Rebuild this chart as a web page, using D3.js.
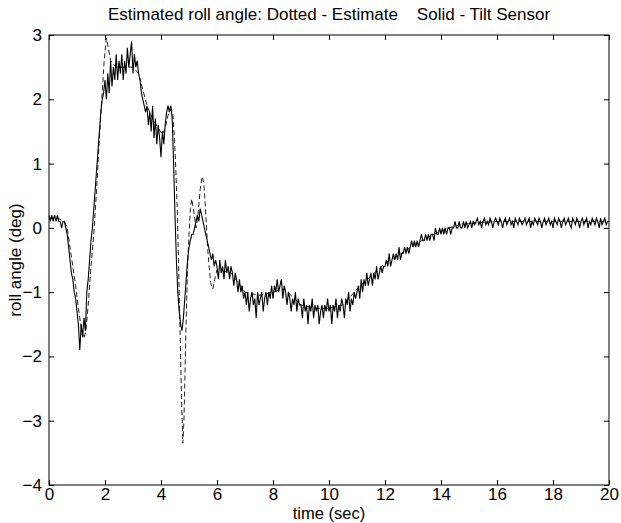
<!DOCTYPE html>
<html>
<head>
<meta charset="utf-8">
<script src="https://cdn.jsdelivr.net/npm/d3@7"></script>
<style>
  body { margin: 0; background: #fff; }
  text { font-family: "Liberation Sans", Arial, sans-serif; fill: #000; }
</style>
</head>
<body>
<div id="chart"></div>
<script>
// Tilt sensor samples, one every 0.05 s from 0 to 20 s
const sampleStep = 0.05;
const sensorRoll = [
  0.2,0.1,0.2,0.1,0.2,0.1,0.2,0.1,0.1,0.0,0.1,0.1,0.0,-0.1,-0.3,-0.5,-0.7,-0.8,-1.0,-1.1,
  -1.3,-1.5,-1.9,-1.5,-1.7,-1.4,-1.6,-1.0,-0.8,-0.5,-0.2,0.0,0.3,0.6,0.9,1.2,1.5,1.8,2.0,2.1,
  2.3,2.0,2.4,2.1,2.6,2.2,2.5,2.3,2.7,2.3,2.6,2.4,2.7,2.3,2.6,2.4,2.8,2.5,2.7,2.9,
  2.4,2.7,2.5,2.6,2.4,2.3,2.1,2.0,1.9,1.8,1.9,1.6,1.8,1.5,1.9,1.4,1.7,1.3,1.6,1.4,
  1.1,1.5,1.3,1.6,1.8,1.9,1.8,1.9,1.7,1.0,0.2,-0.5,-1.0,-1.3,-1.5,-1.6,-1.4,-1.1,-0.8,-0.5,
  -0.3,-0.2,-0.1,-0.1,0.0,0.1,0.2,0.1,0.3,0.2,0.1,0.0,-0.1,-0.2,-0.3,-0.4,-0.5,-0.4,-0.6,-0.5,
  -0.6,-0.8,-0.5,-0.7,-0.6,-0.8,-0.5,-0.7,-0.6,-0.8,-0.6,-0.7,-0.9,-0.7,-0.8,-1.0,-0.8,-1.0,-0.9,-1.1,
  -1.0,-1.2,-1.0,-1.3,-1.1,-1.0,-1.2,-1.1,-1.4,-1.0,-1.2,-1.1,-1.0,-1.3,-1.1,-1.0,-1.2,-1.0,-1.1,-0.9,
  -1.1,-0.9,-1.0,-0.8,-1.0,-0.9,-0.8,-1.1,-0.9,-1.0,-1.2,-1.0,-1.1,-1.3,-1.1,-1.2,-1.0,-1.3,-1.1,-1.2,
  -1.2,-1.4,-1.1,-1.3,-1.2,-1.5,-1.2,-1.3,-1.1,-1.4,-1.2,-1.3,-1.2,-1.5,-1.3,-1.2,-1.4,-1.2,-1.3,-1.1,
  -1.3,-1.2,-1.5,-1.2,-1.3,-1.1,-1.4,-1.2,-1.3,-1.1,-1.2,-1.4,-1.1,-1.2,-1.0,-1.3,-1.1,-1.2,-1.0,-1.1,
  -1.0,-0.9,-1.1,-0.8,-1.0,-0.8,-0.9,-0.7,-0.9,-0.8,-0.7,-0.9,-0.7,-0.8,-0.6,-0.8,-0.7,-0.6,-0.7,-0.6,
  -0.6,-0.5,-0.6,-0.4,-0.6,-0.5,-0.4,-0.5,-0.4,-0.5,-0.3,-0.5,-0.4,-0.4,-0.3,-0.4,-0.3,-0.4,-0.3,-0.2,
  -0.3,-0.2,-0.3,-0.2,-0.3,-0.2,-0.1,-0.2,-0.2,-0.1,-0.2,-0.1,-0.2,-0.1,-0.1,-0.2,0.0,-0.1,-0.1,0.0,
  -0.1,0.0,-0.1,0.0,-0.1,0.0,0.0,-0.1,0.0,0.0,0.1,0.0,0.0,0.1,0.0,0.0,0.1,0.0,0.1,0.0,
  0.05,0.1,0.0,0.1,0.05,0.1,0.15,0.05,0.1,0.0,0.1,0.15,0.05,0.1,0.05,0.15,0.1,0.0,0.1,0.15,
  0.1,0.05,0.15,0.1,0.0,0.1,0.15,0.05,0.1,0.15,0.05,0.1,0.0,0.15,0.1,0.05,0.15,0.1,0.05,0.1,
  0.15,0.05,0.1,0.15,0.0,0.1,0.05,0.15,0.1,0.05,0.15,0.1,0.0,0.1,0.15,0.05,0.1,0.15,0.05,0.1,
  0.0,0.15,0.1,0.05,0.15,0.1,0.0,0.1,0.15,0.05,0.1,0.15,0.05,0.0,0.15,0.1,0.05,0.15,0.1,0.0,
  0.1,0.15,0.05,0.1,0.15,0.0,0.1,0.05,0.15,0.1,0.05,0.15,0.1,0.0,0.15,0.05,0.1,0.15,0.05,0.1,
  0.1
];

// Estimate (dashed) - breakpoints
const estimateTime = [
  0, 0.3, 0.55, 0.65, 0.75, 0.85, 0.95, 1.05, 1.15, 1.25, 1.32, 1.4, 1.5, 1.6, 1.7, 1.8, 1.9, 1.97,
  2.05, 2.12, 2.2, 2.4, 2.7, 3.0, 3.2, 3.35, 3.5, 3.7, 3.9, 4.05, 4.15, 4.25, 4.35, 4.42, 4.48,
  4.53, 4.58, 4.63, 4.68, 4.73, 4.78, 4.82, 4.86, 4.9, 4.95, 5.0, 5.05, 5.1, 5.17, 5.25, 5.32,
  5.4, 5.47, 5.53, 5.6, 5.68, 5.77, 5.85, 5.92, 6.0, 6.5, 7.0, 7.5, 8.0, 8.4, 9.0, 9.5, 10.0,
  10.5, 11.0, 11.5, 12.0, 12.5, 13.0, 13.5, 14.0, 14.5, 15.0, 16.0, 20.0
];
const estimateRoll = [
  0.15, 0.15, 0.1, 0.0, -0.3, -0.6, -0.9, -1.25, -1.55, -1.72, -1.6, -1.2, -0.6, -0.1, 0.6, 1.4, 2.1, 2.6,
  2.95, 2.8, 2.6, 2.5, 2.5, 2.5, 2.4, 2.15, 1.9, 1.7, 1.55, 1.45, 1.55, 1.75, 1.85, 1.8, 1.4,
  0.9, 0.3, -0.6, -1.6, -2.6, -3.35, -3.0, -2.2, -1.4, -0.6, -0.1, 0.3, 0.45, 0.25, 0.0, 0.2,
  0.6, 0.8, 0.7, 0.2, -0.4, -0.85, -0.95, -0.8, -0.65, -0.7, -1.0, -1.05, -1.0, -0.95, -1.2, -1.25, -1.25,
  -1.2, -0.95, -0.75, -0.55, -0.42, -0.28, -0.15, -0.05, 0.03, 0.07, 0.1, 0.1
];

const xTicks = [0, 2, 4, 6, 8, 10, 12, 14, 16, 18, 20];
const yTicks = [-4, -3, -2, -1, 0, 1, 2, 3];

const W = 621, H = 523;
const box = { left: 49, right: 609, top: 35, bottom: 485 };

const svg = d3.select("#chart").append("svg")
  .attr("width", W)
  .attr("height", H);

svg.append("rect").attr("width", W).attr("height", H).attr("fill", "#fff");

const x = d3.scaleLinear().domain([0, 20]).range([box.left, box.right]);
const y = d3.scaleLinear().domain([-4, 3]).range([box.bottom, box.top]);

svg.append("defs").append("clipPath").attr("id", "plotArea")
  .append("rect")
    .attr("x", box.left).attr("y", box.top)
    .attr("width", box.right - box.left).attr("height", box.bottom - box.top);

// Axes: ticks point inward, labels only bottom and left
const tickFont = "17px";
const bottomAxis = svg.append("g")
  .attr("transform", `translate(0,${box.bottom})`)
  .call(d3.axisBottom(x).tickValues(xTicks).tickSize(-5).tickPadding(3).tickFormat(d3.format("d")));
const topAxis = svg.append("g")
  .attr("transform", `translate(0,${box.top})`)
  .call(d3.axisTop(x).tickValues(xTicks).tickSize(-5).tickFormat(""));
const leftAxis = svg.append("g")
  .attr("transform", `translate(${box.left},0)`)
  .call(d3.axisLeft(y).tickValues(yTicks).tickSize(-5).tickPadding(7).tickFormat(d3.format("d")));
const rightAxis = svg.append("g")
  .attr("transform", `translate(${box.right},0)`)
  .call(d3.axisRight(y).tickValues(yTicks).tickSize(-5).tickFormat(""));

[bottomAxis, topAxis, leftAxis, rightAxis].forEach(g => {
  g.select(".domain").remove();
  g.selectAll("line").attr("stroke", "#000");
  g.selectAll("text")
    .style("font-size", tickFont)
    .style("font-family", "'Liberation Sans', Arial, sans-serif")
    .attr("fill", "#000");
});

// Lines
const estLine = d3.line()
  .x((d, i) => x(estimateTime[i]))
  .y(d => y(d));

const sensorLine = d3.line()
  .x((d, i) => x(i * sampleStep))
  .y(d => y(d));

const plot = svg.append("g").attr("clip-path", "url(#plotArea)");

plot.append("path")
  .datum(estimateRoll)
  .attr("fill", "none")
  .attr("stroke", "#222")
  .attr("stroke-width", 1)
  .attr("stroke-dasharray", "5,3")
  .attr("d", estLine);

plot.append("path")
  .datum(sensorRoll)
  .attr("fill", "none")
  .attr("stroke", "#000")
  .attr("stroke-width", 1.1)
  .attr("d", sensorLine);

// Box
svg.append("rect")
  .attr("x", box.left).attr("y", box.top)
  .attr("width", box.right - box.left).attr("height", box.bottom - box.top)
  .attr("fill", "none")
  .attr("stroke", "#000")
  .attr("stroke-width", 1);

// Title and axis labels
svg.append("text")
  .attr("x", (box.left + box.right) / 2)
  .attr("y", 20)
  .attr("text-anchor", "middle")
  .style("font-size", "17px")
  .style("white-space", "pre")
  .text("Estimated roll angle: Dotted - Estimate    Solid - Tilt Sensor");

svg.append("text")
  .attr("x", (box.left + box.right) / 2)
  .attr("y", 519)
  .attr("text-anchor", "middle")
  .style("font-size", "16.5px")
  .text("time (sec)");

svg.append("text")
  .attr("transform", `translate(21,${(box.top + box.bottom) / 2}) rotate(-90)`)
  .attr("text-anchor", "middle")
  .style("font-size", "17px")
  .text("roll angle (deg)");
</script>
</body>
</html>
